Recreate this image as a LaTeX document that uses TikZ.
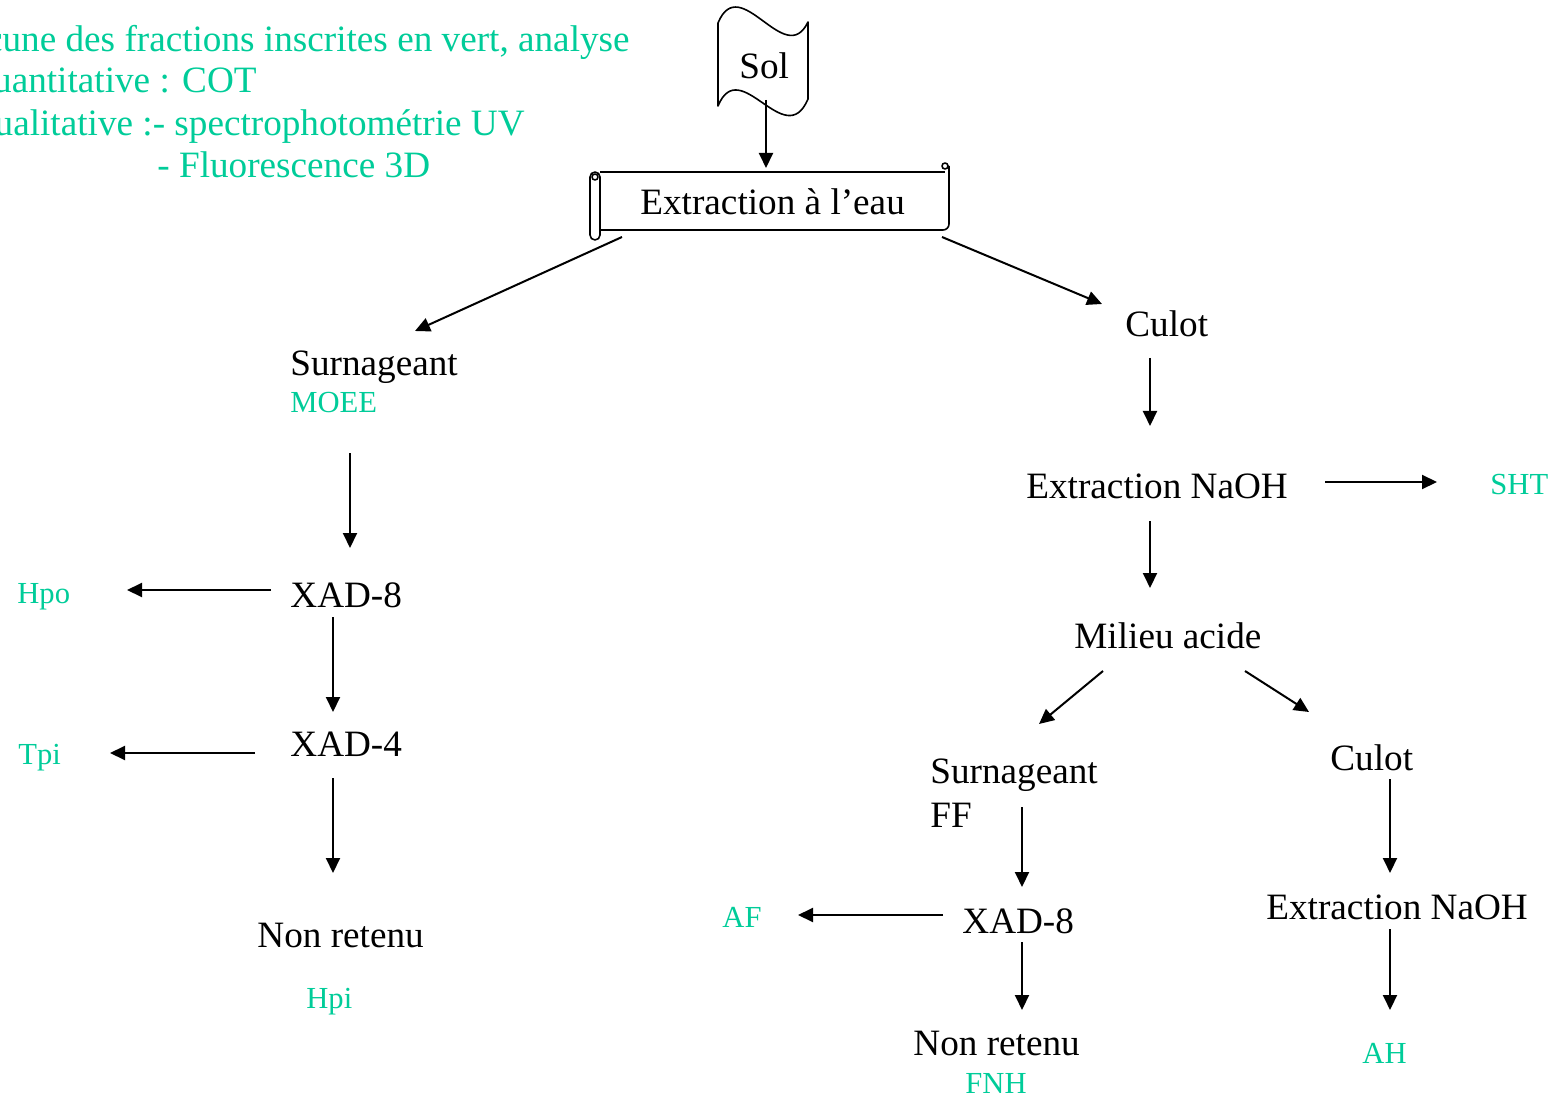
\documentclass[tikz,border=0pt]{standalone}
\usepackage{fontspec}
\setmainfont{Liberation Serif}
\usetikzlibrary{arrows.meta}
\definecolor{vert}{RGB}{0,204,153}
\tikzset{
	txt/.style={anchor=base west, inner sep=0pt, font=\fontsize{18.6}{22}\selectfont},
	fraction/.style={txt, text=vert, font=\fontsize{15.3}{18}\selectfont},
	fleche/.style={-{Triangle[length=7.5pt,width=7pt]}, line width=1pt},
}
\begin{document}
\begin{tikzpicture}[x=0.5pt, y=-0.5pt, line join=round]
	\useasboundingbox (0,0) rectangle (1552,1096);
	% legende
	\node[txt, anchor=base east, text=vert] (leg1) at (630,52) {cune des fractions inscrites en vert, analyse};
	\node[txt, anchor=base east, text=vert] (leg2) at (257,93) {uantitative : COT};
	\node[txt, anchor=base east, text=vert] (leg3) at (525,136) {ualitative :- spectrophotométrie UV};
	\node[txt, text=vert] (leg4) at (157,178) {- Fluorescence 3D};
	% formes du haut
	\draw[line width=0.8pt] (718,23) .. controls (740,-30) and (785,70) .. (808,22) -- (808,99)
		.. controls (785,153) and (740,53) .. (718,106) -- cycle;
	\draw[line width=0.8pt, rounded corners=2.5pt] (590,172) rectangle (600,240);
	\draw[line width=0.8pt] (595,177) circle[radius=3];
	\draw[line width=0.8pt] (600,172) -- (945,172);
	\draw[line width=0.8pt] (945,166) circle[radius=3];
	\draw[line width=0.8pt, rounded corners=3pt] (949,166) -- (949,230) -- (600,230);
	\node[txt] (sol) at (739,79) {Sol};
	\node[txt] (eau) at (640,215) {Extraction à l’eau};
	% branche gauche
	\node[txt] (surn) at (290,376) {Surnageant};
	\node[fraction] (moee) at (290,413) {MOEE};
	\node[txt] (xada) at (290,607) {XAD-8};
	\node[fraction] (hpo) at (17,603) {Hpo};
	\node[txt] (xadb) at (290,756) {XAD-4};
	\node[fraction] (tpi) at (18,764) {Tpi};
	\node[txt] (nonr) at (257,947) {Non retenu};
	\node[fraction] (hpi) at (306,1008) {Hpi};
	% branche droite
	\node[txt] (culot) at (1125,337) {Culot};
	\node[txt] (naoh) at (1026,498) {Extraction NaOH};
	\node[fraction] (sht) at (1490,494) {SHT};
	\node[txt] (acide) at (1074,648) {Milieu acide};
	\node[txt] (surnb) at (930,783) {Surnageant};
	\node[txt] (ff) at (930,827) {FF};
	\node[txt] (culotb) at (1330,770) {Culot};
	\node[txt] (xadc) at (962,933) {XAD-8};
	\node[fraction] (af) at (722,927) {AF};
	\node[txt] (naohb) at (1266,919) {Extraction NaOH};
	\node[txt] (nonrb) at (913,1055) {Non retenu};
	\node[fraction] (fnh) at (965,1093) {FNH};
	\node[fraction] (ah) at (1362,1063) {AH};
	% fleches
	\draw[fleche] ([shift={(27,21)}]sol.base west) -- ([shift={(126,-47)}]eau.base west);
	\draw[fleche] ([shift={(-18,22)}]eau.base west) -- ([shift={(125,-45)}]surn.base west);
	\draw[fleche] ([shift={(302,22)}]eau.base west) -- ([shift={(-23,-33)}]culot.base west);
	\draw[fleche] ([shift={(60,40)}]moee.base west) -- ([shift={(60,-59)}]xada.base west);
	\draw[fleche] ([shift={(-19,-17)}]xada.base west) -- ([shift={(110,-13)}]hpo.base west);
	\draw[fleche] ([shift={(43,10)}]xada.base west) -- ([shift={(43,-44)}]xadb.base west);
	\draw[fleche] ([shift={(-35,-3)}]xadb.base west) -- ([shift={(92,-11)}]tpi.base west);
	\draw[fleche] ([shift={(43,22)}]xadb.base west) -- ([shift={(76,-74)}]nonr.base west);
	\draw[fleche] ([shift={(25,21)}]culot.base west) -- ([shift={(124,-72)}]naoh.base west);
	\draw[fleche] ([shift={(299,-16)}]naoh.base west) -- ([shift={(-53,-12)}]sht.base west);
	\draw[fleche] ([shift={(124,23)}]naoh.base west) -- ([shift={(76,-60)}]acide.base west);
	\draw[fleche] ([shift={(29,23)}]acide.base west) -- ([shift={(109,-59)}]surnb.base west);
	\draw[fleche] ([shift={(171,23)}]acide.base west) -- ([shift={(-21,-58)}]culotb.base west);
	\draw[fleche] ([shift={(92,24)}]surnb.base west) -- ([shift={(60,-46)}]xadc.base west);
	\draw[fleche] ([shift={(-19,-18)}]xadc.base west) -- ([shift={(76,-12)}]af.base west);
	\draw[fleche] ([shift={(60,9)}]xadc.base west) -- ([shift={(109,-45)}]nonrb.base west);
	\draw[fleche] ([shift={(60,9)}]culotb.base west) -- ([shift={(124,-46)}]naohb.base west);
	\draw[fleche] ([shift={(124,10)}]naohb.base west) -- ([shift={(28,-53)}]ah.base west);
\end{tikzpicture}
\end{document}
